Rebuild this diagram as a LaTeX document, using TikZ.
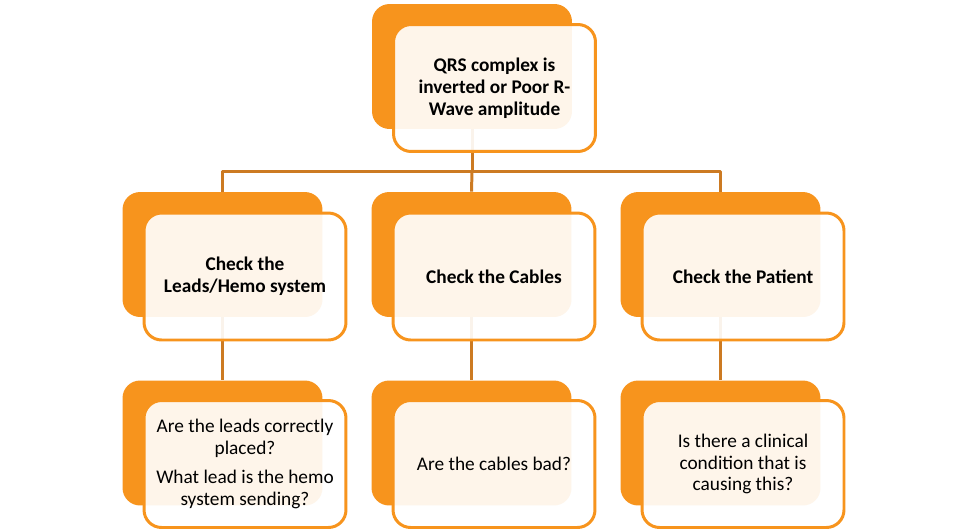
\documentclass[tikz,border=0pt]{standalone}
\usepackage{fontspec}
\setmainfont{Carlito}
\definecolor{boxorange}{HTML}{F7941D}
\definecolor{linkbrown}{HTML}{CC7A22}
\begin{document}
\begin{tikzpicture}[x=0.02cm,y=-0.02cm,
    backbox/.style={fill=boxorange,rounded corners=10pt,minimum width=4cm,minimum height=2.5cm,inner sep=0pt},
    frontbox/.style={draw=boxorange,line width=1.7pt,fill=white,fill opacity=0.91,text opacity=1,rounded corners=10pt,
      minimum width=4.04cm,minimum height=2.54cm,inner sep=0pt,align=center,font=\fontsize{11}{12.4}\selectfont},
    link/.style={draw=linkbrown,line width=1.7pt}]
  \useasboundingbox (0,0) rectangle (966,531);
  % back boxes
  \node[backbox] (qrsback) at (472,66.5) {};
  \node[backbox] (leadsback) at (222.5,254.5) {};
  \node[backbox] (cablesback) at (471.5,254.5) {};
  \node[backbox] (patientback) at (720.5,254.5) {};
  \node[backbox] (placedback) at (222.5,443) {};
  \node[backbox] (badback) at (471.5,443) {};
  \node[backbox] (clinicalback) at (720.5,443) {};
  % connectors
  \coordinate (split) at (472,171.5);
  \draw[link] (qrsback.south) -- (split);
  \draw[link,line join=round] (leadsback.north) |- (split) -| (patientback.north);
  \draw[link] (split) -- (cablesback.north);
  \draw[link] (leadsback.south) -- (placedback.north);
  \draw[link] (cablesback.south) -- (badback.north);
  \draw[link] (patientback.south) -- (clinicalback.north);
  % front boxes
  \node[frontbox,font=\fontsize{11}{12.4}\selectfont\bfseries] (qrs) at (494.5,88)
    {QRS complex is\\inverted or Poor R-\\Wave amplitude};
  \node[frontbox,font=\fontsize{11}{12.4}\selectfont\bfseries] (leads) at (245,276.5)
    {Check the\\Leads/Hemo system};
  \node[frontbox,font=\fontsize{11}{12.4}\selectfont\bfseries] (cables) at (494,276.5)
    {Check the Cables};
  \node[frontbox,font=\fontsize{11}{12.4}\selectfont\bfseries] (patient) at (743,276.5)
    {Check the Patient};
  \node[frontbox] (placed) at (245,464)
    {Are the leads correctly\\placed?\\[4pt]What lead is the hemo\\system sending?};
  \node[frontbox] (bad) at (494,464) {Are the cables bad?};
  \node[frontbox] (clinical) at (743,464)
    {Is there a clinical\\condition that is\\causing this?};
\end{tikzpicture}
\end{document}
